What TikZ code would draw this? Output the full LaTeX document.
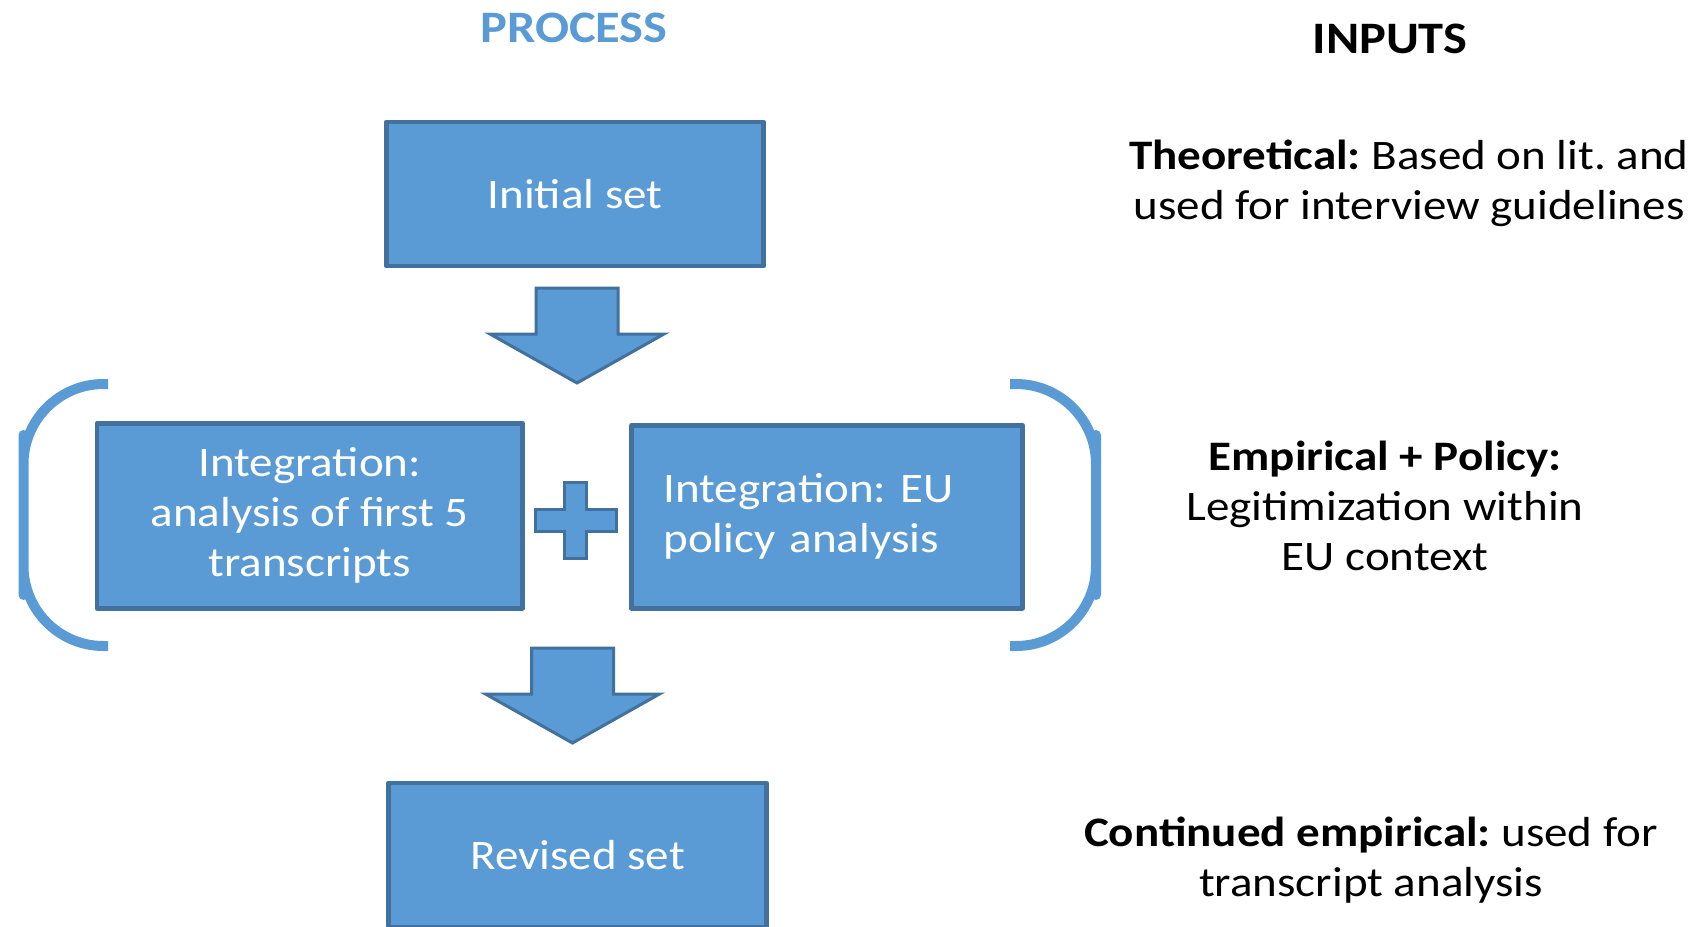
\documentclass[tikz,border=0pt]{standalone}
\usepackage{fontspec}
\setmainfont{Carlito}[FakeStretch=1.12]
\frenchspacing
\definecolor{boxblue}{HTML}{5B9BD5}
\definecolor{boxedge}{HTML}{41719C}
\tikzset{
procbox/.style={draw=boxedge, fill=boxblue, line width=2.4pt, text=white, align=center, inner sep=0pt},
inputtxt/.style={align=center},
headtxt/.style={font=\fontsize{22.5}{27}\selectfont\bfseries},
blockarrow/.style={draw=boxedge, fill=boxblue, line width=1.5pt, line join=miter},
bracket/.style={draw=boxblue, line width=5pt, rounded corners=40pt}
}
\begin{document}
\begin{tikzpicture}[x=0.5pt, y=-0.5pt, font=\fontsize{21}{25}\selectfont, line join=round]
\useasboundingbox (0,0) rectangle (1704,927);
% column heads
\node[headtxt, text=boxblue] (process) at (574,28) {PROCESS};
\node[headtxt] (inputs) at (1390,39) {INPUTS};
% process
\node[procbox, minimum width=188.7pt, minimum height=72pt] (init) at (575,194) {Initial set};
\node[procbox, minimum width=212.75pt, minimum height=92.5pt] (intL) at (309.75,515.65) {Integration:\\analysis of first 5\\transcripts};
\node[procbox, align=left, text width=163.5pt, inner xsep=16pt, minimum height=91.5pt] (intR) at (827,516.7) {Integration: EU\\policy analysis};
\node[procbox, minimum width=189pt, minimum height=72pt] (revised) at (577.5,855) {Revised set};
\foreach \cx/\cy in {577/288, 572.5/648}
\draw[blockarrow] (\cx-41,\cy) -- (\cx+41,\cy) -- (\cx+41,\cy+46) -- (\cx+87,\cy+46)
  -- (\cx,\cy+95) -- (\cx-87,\cy+46) -- (\cx-41,\cy+46) -- cycle;
\draw[blockarrow] (575.5,520.5) ++(-11,-38) -- ++(22,0) -- ++(0,27) -- ++(29.5,0) -- ++(0,22)
  -- ++(-29.5,0) -- ++(0,27) -- ++(-22,0) -- ++(0,-27) -- ++(-29.5,0) -- ++(0,-22) -- ++(29.5,0) -- cycle;
\draw[bracket] (108,384) -| (23.5,515) |- (108,646);
\draw[bracket] (1010,384) -| (1096,515) |- (1010,646);
% inputs
\node[inputtxt] (theo) at (1409,183) {\textbf{Theoretical:} Based on lit. and\\used for interview guidelines};
\node[inputtxt] (emp) at (1385,506) {\textbf{Empirical + Policy:}\\Legitimization within\\EU context};
\node[inputtxt] (cont) at (1371,860) {\textbf{Continued empirical:} used for\\transcript analysis};
\end{tikzpicture}
\end{document}
